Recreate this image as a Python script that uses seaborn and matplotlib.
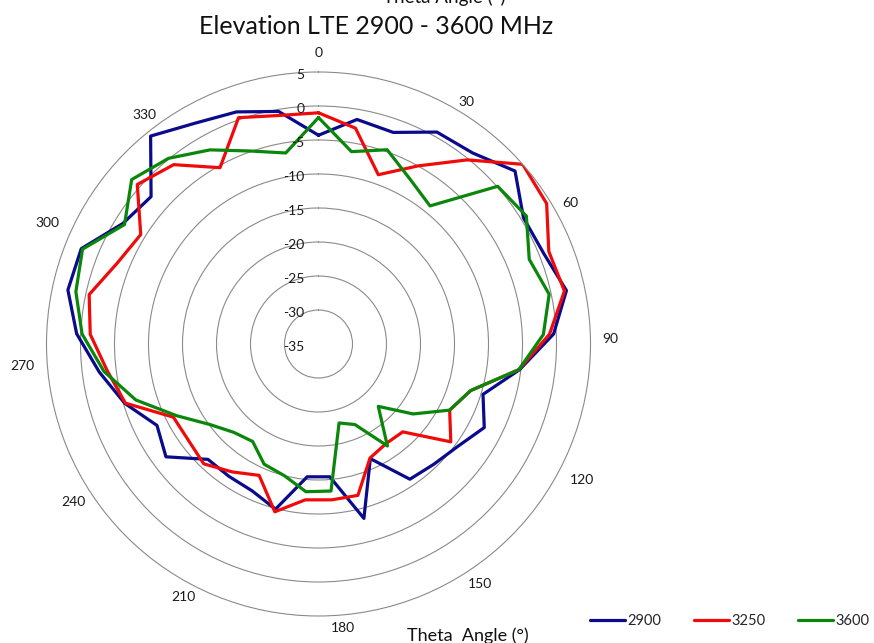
import numpy as np
import pandas as pd
import matplotlib
matplotlib.use("Agg")
import matplotlib.pyplot as plt
import matplotlib.transforms as mtransforms
import seaborn as sns

# ---- data (dB gain per theta category, 0..360 step 10) ----
categories = [str(a) for a in range(0, 361, 10)]
series_names = ["2900", "3250", "3600"]
gain_2900 = [-4.3, -1.5, -2.0, 0.7, 1.1, 3.5, 0.4, 0.7, 2.3, -0.4,
             -5.2, -9.7, -7.7, -9.6, -10.5, -11.0, -16.5, -8.5, -15.4, -15.4,
             -9.9, -11.3, -11.5, -11.5, -7.1, -8.4, -5.2, -2.5, 0.6, 2.7,
             2.6, -1.2, -2.2, 4.3, 2.2, 1.2, -0.3]
gain_3250 = [-1.0, -2.8, -8.6, -5.0, -0.2, 5.0, 4.4, 1.5, 2.0, -1.0,
             -5.3, -11.6, -13.4, -10.8, -17.1, -17.3, -16.6, -12.0, -12.0, -12.0,
             -9.5, -13.8, -12.3, -10.6, -11.2, -11.1, -5.3, -3.7, -1.4, -0.5,
             -3.1, -4.3, 0.5, -1.1, -5.3, 0.3, -0.9]
gain_3600 = [-1.7, -6.3, -4.7, -7.3, -8.9, 0.1, 0.9, -1.6, -0.3, -1.9,
             -5.3, -11.6, -13.4, -17.7, -22.3, -16.9, -22.0, -23.0, -13.3, -13.2,
             -15.0, -15.6, -17.7, -17.0, -15.1, -11.6, -6.9, -3.2, -0.2, 1.5,
             2.4, -1.5, 1.6, 0.1, -2.3, -4.9, -6.5]
r_ticks = [5, 0, -5, -10, -15, -20, -25, -30, -35]
colors = ["#0a0a8c", "#f00a0a", "#0a870a"]

# layout: pixel offsets (right, up) of each shown category label from the outer rim
label_offsets = [(0, 19), (15, 5), (20, -2), (20, -7), (21, -14), (9, -15),
                 (1, -13), (-23, -5), (-26, 4), (-26, 13), (-19, 20), (-3, 17)]

# ---- build long table (radar: categories evenly spread, polygon closed) ----
n = len(categories)
rows = []
for name, vals in zip(series_names, [gain_2900, gain_3250, gain_3600]):
    for i in range(n):
        rows.append({"series": name, "theta": 2 * np.pi * i / n, "gain": vals[i]})
    rows.append({"series": name, "theta": 2 * np.pi, "gain": vals[0]})
df = pd.DataFrame(rows)

sns.set_style("white")
plt.rcParams["font.family"] = ["Lato", "DejaVu Sans"]

fig = plt.figure(figsize=(8.74, 6.43), dpi=100)
W, H = 874, 643
cx, cy, R = 318.5, 344, 272
ax = fig.add_axes([(cx - R) / W, (H - cy - R) / H, 2 * R / W, 2 * R / H], projection="polar")
ax.set_theta_zero_location("N")
ax.set_theta_direction(-1)

sns.lineplot(data=df, x="theta", y="gain", hue="series", palette=colors,
             sort=False, estimator=None, linewidth=2.3, ax=ax)

ax.set_ylim(-35, 5)
ax.set_yticks([-30, -25, -20, -15, -10, -5, 0])
ax.set_yticklabels([])
ax.yaxis.grid(True, color="#8a8a8a", linewidth=0.8)
ax.xaxis.grid(False)
ax.spines["polar"].set_color("#8a8a8a")
ax.spines["polar"].set_linewidth(0.8)
ax.set_xlabel("")
ax.set_ylabel("")

tick_idx = list(range(0, n - 1, 3))
ax.set_xticks([2 * np.pi * k / n for k in tick_idx])
ax.set_xticklabels([])
ax.tick_params(axis="x", length=0)
for k, (dx, dy) in zip(tick_idx, label_offsets):
    tr = mtransforms.offset_copy(ax.transData, fig=fig, x=dx, y=dy, units="dots")
    ax.text(2 * np.pi * k / n, 5, categories[k], transform=tr, ha="center", va="center",
            fontsize=10, color="#1a1a1a", clip_on=False)

off = mtransforms.offset_copy(ax.transData, fig=fig, x=-14, y=-3, units="dots")
for v in r_ticks:
    ax.text(0, v, str(v), transform=off, ha="right", va="center",
            fontsize=10, color="#1a1a1a")

ax.legend_.remove()
handles = ax.get_lines()[:3]
fig.legend(handles, series_names, loc="center left",
           bbox_to_anchor=(590 / W, 1 - 621 / H), ncol=3, frameon=False,
           fontsize=10.5, handlelength=2.4, handletextpad=0.15, columnspacing=2.25,
           borderpad=0, borderaxespad=0)

fig.text(376 / W, 1 - 27 / H, "Elevation LTE 2900 - 3600 MHz", ha="center", va="center",
         fontsize=18, color="#111111")
fig.text(444 / W, 1 + 3 / H, "Theta Angle (°)", ha="center", va="center",
         fontsize=13.5, color="#111111")
fig.text(468 / W, 1 - 636 / H, "Theta  Angle (°)", ha="center", va="center",
         fontsize=13, color="#111111")

fig.savefig("out.png", dpi=100)
